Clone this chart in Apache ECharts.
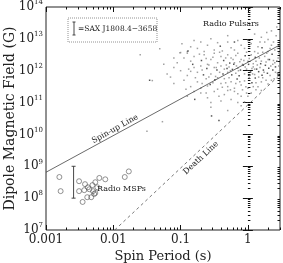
<!DOCTYPE html>
<html><head><meta charset="utf-8">
<script src="https://cdn.jsdelivr.net/npm/echarts@6/dist/echarts.min.js"></script>
<style>html,body{margin:0;padding:0;background:#fff}#c{width:283px;height:263px}</style>
</head><body><div id="c"></div>
<script>
// Axis ranges and tick values
const xMin = 0.001, xMax = 3;
const yMin = 1e7, yMax = 1e14;
const xMajorTicks = [0.001, 0.01, 0.1, 1];
const xTickLabels = ['0.001', '0.01', '0.1', '1'];
const xMinorTicks = [0.002,0.003,0.004,0.005,0.006,0.007,0.008,0.009,0.02,0.03,0.04,0.05,0.06,0.07,0.08,0.09,0.2,0.3,0.4,0.5,0.6,0.7,0.8,0.9,2,3];
const yTickExponents = [7, 8, 9, 10, 11, 12, 13, 14];
const yMinorMultipliers = [2,3,4,5,6,7,8,9];

// Radio pulsars, [log10 P(s), log10 B(G)]
const pulsarsLight = [
[0.43,13.37],[0.28,13.2],[0.35,13.25],[0.42,13.1],[0.2,13.05],[-0.55,13.0],[0.1,13.15],[-0.15,12.95],[0.3,12.98],
[-1.0,12.57],[-0.9,12.6],[-0.75,12.7],[-0.6,12.8],[-0.3,12.9],[-0.1,12.8],[0.05,12.85],[0.35,12.8],[0.4,12.65],[-0.5,12.65],[-0.2,12.65],[0.1,12.6],[-1.31,12.69],[-0.85,12.75],[0.25,12.9],[-0.05,12.7],[0.3,12.6],[-0.65,12.6],
[-0.95,12.4],[-0.8,12.45],[-0.65,12.5],[-0.55,12.35],[-0.5,12.55],[-0.45,12.25],[-0.4,12.45],[-0.3,12.5],[-0.25,12.4],[-0.2,12.25],[-0.15,12.55],[-0.1,12.35],[0,12.3],[0.05,12.5],[0.15,12.55],[0.2,12.3],[0.25,12.45],[0.3,12.35],[0.4,12.25],[0.45,12.4],[-0.6,12.2],[-0.12,12.28],[0.08,12.22],[-0.42,12.58],[-0.02,12.58],[0.22,12.58],[-0.72,12.52],[-0.85,12.3],[-1.05,12.25],[-0.33,12.4],[-0.18,12.48],[0.02,12.38],[0.12,12.3],[0.28,12.55],[-0.52,12.42],[-0.62,12.38],[-0.08,12.2],[0.38,12.32],
[-1.2,11.9],[-1.0,12.0],[-0.9,11.85],[-0.8,12.1],[-0.75,11.95],[-0.7,12.15],[-0.55,11.9],[-0.5,12.1],[-0.48,11.82],[-0.4,12.15],[-0.35,12.05],[-0.3,11.95],[-0.28,12.12],[-0.18,11.92],[-0.15,12.08],[-0.05,11.9],[-0.02,12.05],[0.02,11.85],[0.08,12.12],[0.1,11.88],[0.18,12.1],[0.33,11.85],[0.44,11.92],[-0.58,12.18],[-0.42,11.95],[-0.32,12.18],[-0.14,12.0],[-0.04,12.12],[0.06,12.07],[-0.85,11.98],[-0.68,12.02],[-1.1,12.1],[0.16,11.8],[-0.26,12.0],[0.34,12.15],
[-1.42,11.69],[-1.1,11.6],[-0.95,11.7],[-0.85,11.5],[-0.75,11.65],[-0.7,11.45],[-0.62,11.75],[-0.45,11.42],[-0.4,11.6],[-0.35,11.75],[-0.3,11.5],[-0.25,11.65],[-0.2,11.45],[-0.1,11.55],[-0.05,11.68],[0,11.45],[0.15,11.5],[0.2,11.65],[0.3,11.58],[0.35,11.7],[-0.6,11.52],[-0.38,11.48],[-0.18,11.6],[0.02,11.78],[0.12,11.62],[-0.78,11.78],[-0.92,11.42],[0.22,11.78],[-0.28,11.78],[-0.08,11.4],[-0.52,11.62],
[-0.9,11.2],[-0.7,11.3],[-0.6,11.15],[-0.5,11.35],[-0.4,11.05],[-0.35,11.25],[-0.25,11.1],[-0.2,11.35],[-0.1,11.2],[-0.05,11.02],[0.05,11.3],[0.2,11.38],[-0.3,11.38],[0,11.2],[-0.15,11.0],[-0.55,11.0],
[-1.27,10.4],[-1.5,10.1],[-0.3,10.75],[-0.1,10.9],[-0.55,10.85],[-1.01,12.56],[-0.9,12.55],
[-0.45,12.88],[-0.25,12.72],[0.15,12.75],[0.38,12.9],[0.46,12.55],[0.46,12.15],[0.41,11.95],[0.27,11.7],[0.12,11.4],[-0.02,11.3],
[-0.62,11.3],[-0.8,11.35],[-1.15,11.8],[-1.25,12.2],[-0.98,12.85],[-0.7,12.9],[-1.6,12.5],[-0.43,11.2],[-0.15,11.28],[0.08,11.5],
[0.44,12.7],[0.47,12.0],[0.45,11.9],[0.39,11.75],[0.33,12.7],[0.18,12.9],[0.0,12.95],[-0.3,13.1],[-0.8,12.95],[-1.1,12.4],
[-0.38,12.62],[-0.22,12.35],[-0.06,12.32],[0.17,12.4],[0.27,12.27],[-0.47,12.1],[-0.33,11.62],[-0.12,11.65],[0.07,11.9],[0.24,11.95],
[-0.68,11.6],[-0.58,11.8],[-0.88,12.05],[-0.03,11.5],[0.14,12.18],[-0.17,12.15],[-0.45,11.78],[-0.26,11.4],[0.1,12.05],[0.37,12.2]
];
const pulsarsDark = [
[-0.79,11.1],[-0.54,10.58],[-0.43,10.44],[-0.31,12.07],[-0.11,12.02],[0.04,11.96],[-0.21,12.2],[0.21,11.86],[-0.46,12.02],[0.13,12.05],
[-0.61,12.07],[0.31,12.08],[-0.24,11.87],[0.01,12.2],[0.26,12.17],[-0.36,12.32],[0.11,12.42],[-0.16,11.74],[0.11,11.77],[-0.56,11.57],
[-0.04,12.47],[0.36,12.52],[-0.69,12.32],[-0.41,12.77],[0.21,12.72],[-0.89,12.62],[0.41,12.12],[-0.37,11.9],[0.16,11.97],[-0.13,11.84],
[0.29,11.92],[-0.66,11.87],[0.06,11.62],[-0.27,12.24],[0.19,12.22],[-0.49,11.72],[0.23,12.02],[-0.23,12.04],[0.37,12.02],[-0.07,12.17],
[-1.46,11.7],[-0.2,12.9],[0.43,12.3],[-0.82,12.2],[0.32,12.35]
];

// Radio millisecond pulsars, [P(s), B(G)]
const msps = [
[0.00158,4.6e8],[0.00165,1.66e8],[0.0031,3.4e8],[0.0031,1.66e8],[0.0038,2.75e8],[0.0037,1.78e8],[0.0035,7.6e7],[0.0041,1.07e8],
[0.0044,1.9e8],[0.0049,2.57e8],[0.0054,3.16e8],[0.0050,1.66e8],[0.0054,1.45e8],[0.0058,2.19e8],[0.0062,4.3e8],[0.0052,1.35e8],
[0.0047,1.07e8],[0.0042,2.19e8],[0.0076,3.9e8],[0.0148,4.6e8],[0.0170,6.9e8]
];
// SAX J1808.4-3658: [P(s), Bmin(G), Bmax(G)]
const saxJ1808 = [[0.00257, 1e8, 1e9]];
// Reference lines, [P(s), B(G)] end points
const spinUpLine = [[0.001, 6.5e8], [3, 6.5e12]];
const deathLine = [[0.0105, 1e7], [3, 7.5e11]];

const FONT = 'DejaVu Serif';
const INK = '#222222';

const yMinorTicks = [];
yTickExponents.slice(0, -1).forEach(e => yMinorMultipliers.forEach(m => yMinorTicks.push(m * Math.pow(10, e))));
const yMajorTicks = yTickExponents.map(e => Math.pow(10, e));

function isDecade(v) { const l = Math.log10(v); return Math.abs(l - Math.round(l)) < 1e-6; }

// Tick-only helper axes in log10 space, overlaid on the same grid
function tickAxis(dim, position, values, len) {
  const isX = dim === 'x';
  return {
    type: 'value', gridIndex: 0, position: position, silent: true,
    min: isX ? Math.log10(xMin) : Math.log10(yMin),
    max: isX ? Math.log10(xMax) : Math.log10(yMax),
    axisLine: { show: false }, splitLine: { show: false },
    axisLabel: { show: false },
    axisTick: { show: true, inside: true, length: len, customValues: values.map(v => Math.log10(v)), lineStyle: { color: '#111', width: 1 } }
  };
}

const chart = echarts.init(document.getElementById('c'), null, { renderer: 'canvas' });
chart.setOption({
  backgroundColor: '#ffffff',
  animation: false,
  grid: { left: 46, right: 3, top: 7, bottom: 33, show: true, borderColor: INK, borderWidth: 1, outerBoundsMode: 'none' },
  xAxis: [{
    type: 'log', min: xMin, max: xMax, gridIndex: 0, position: 'bottom',
    axisLine: { show: false }, axisTick: { show: false }, splitLine: { show: false },
    axisLabel: {
      fontFamily: FONT, fontSize: 12, color: INK, margin: 4, showMinLabel: true, showMaxLabel: true,
      formatter: function (v) {
        if (!isDecade(v)) return '';
        const i = xMajorTicks.findIndex(t => Math.abs(Math.log10(t) - Math.log10(v)) < 1e-6);
        return i >= 0 ? xTickLabels[i] : '';
      }
    },
    name: 'Spin Period (s)', nameLocation: 'middle', nameGap: 20, nameMoveOverlap: false,
    nameTextStyle: { fontFamily: FONT, fontSize: 13, color: INK }
  },
    tickAxis('x', 'bottom', xMajorTicks, 5),
    tickAxis('x', 'bottom', xMinorTicks, 2.5),
    tickAxis('x', 'top', xMajorTicks, 5),
    tickAxis('x', 'top', xMinorTicks, 2.5)
  ],
  yAxis: [{
    type: 'log', min: yMin, max: yMax, gridIndex: 0, position: 'left',
    axisLine: { show: false }, axisTick: { show: false }, splitLine: { show: false },
    axisLabel: {
      fontFamily: FONT, color: INK, margin: 3, showMinLabel: true, showMaxLabel: true,
      formatter: function (v) {
        if (!isDecade(v)) return '';
        return '{b|10}{s|' + Math.round(Math.log10(v)) + '}';
      },
      rich: {
        b: { fontFamily: FONT, fontSize: 12, color: INK },
        s: { fontFamily: FONT, fontSize: 7, color: INK, padding: [0, 0, 9, 0] }
      }
    },
    name: 'Dipole Magnetic Field (G)', nameLocation: 'middle', nameGap: 29, nameMoveOverlap: false,
    nameTextStyle: { fontFamily: FONT, fontSize: 14, color: INK }
  },
    tickAxis('y', 'left', yMajorTicks, 5),
    tickAxis('y', 'left', yMinorTicks, 2.5),
    tickAxis('y', 'right', yMajorTicks, 5),
    tickAxis('y', 'right', yMinorTicks, 2.5)
  ],
  series: [
    { type: 'line', xAxisIndex: 0, yAxisIndex: 0, data: spinUpLine, symbol: 'none', silent: true, lineStyle: { color: '#444', width: 0.8 } },
    { type: 'line', xAxisIndex: 0, yAxisIndex: 0, data: deathLine, symbol: 'none', silent: true, lineStyle: { color: '#555', width: 0.8, type: [3, 3] } },
    { type: 'scatter', xAxisIndex: 0, yAxisIndex: 0, data: pulsarsLight.map(p => [Math.pow(10, p[0]), Math.pow(10, p[1])]), symbol: 'rect', symbolSize: 1.5, silent: true, itemStyle: { color: '#8a8a8a' } },
    { type: 'scatter', xAxisIndex: 0, yAxisIndex: 0, data: pulsarsDark.map(p => [Math.pow(10, p[0]), Math.pow(10, p[1])]), symbol: 'rect', symbolSize: 1.5, silent: true, itemStyle: { color: '#2a2a2a' } },
    { type: 'scatter', xAxisIndex: 0, yAxisIndex: 0, data: msps, symbol: 'circle', symbolSize: 5, silent: true, itemStyle: { color: 'rgba(0,0,0,0)', borderColor: '#555', borderWidth: 0.8 } },
    {
      type: 'custom', xAxisIndex: 0, yAxisIndex: 0, silent: true, animation: false, data: saxJ1808,
      renderItem: function (params, api) {
        const lo = api.coord([api.value(0), api.value(1)]);
        const hi = api.coord([api.value(0), api.value(2)]);
        const st = { stroke: '#333', lineWidth: 0.9 };
        return { type: 'group', children: [
          { type: 'line', shape: { x1: lo[0], y1: lo[1], x2: hi[0], y2: hi[1] }, style: st },
          { type: 'line', shape: { x1: lo[0] - 2, y1: lo[1], x2: lo[0] + 2, y2: lo[1] }, style: st },
          { type: 'line', shape: { x1: hi[0] - 2, y1: hi[1], x2: hi[0] + 2, y2: hi[1] }, style: st }
        ]};
      }
    }
  ],
  graphic: [
    { type: 'rect', shape: { x: 68, y: 18, width: 89, height: 24 }, style: { fill: 'none', stroke: '#777', lineWidth: 0.8, lineDash: [1, 1] } },
    { type: 'line', shape: { x1: 74, y1: 22, x2: 74, y2: 35 }, style: { stroke: '#333', lineWidth: 0.9 } },
    { type: 'line', shape: { x1: 72.5, y1: 22, x2: 75.5, y2: 22 }, style: { stroke: '#333', lineWidth: 0.9 } },
    { type: 'line', shape: { x1: 72.5, y1: 35, x2: 75.5, y2: 35 }, style: { stroke: '#333', lineWidth: 0.9 } },
    { type: 'text', x: 78, y: 29, style: { text: '=SAX J1808.4\u22123658', font: '7.5px "DejaVu Serif"', fill: INK, align: 'left', verticalAlign: 'middle' } },
    { type: 'text', x: 231, y: 24, style: { text: 'Radio Pulsars', font: '8px "DejaVu Serif"', fill: INK, align: 'center', verticalAlign: 'middle' } },
    { type: 'text', x: 97, y: 189, style: { text: 'Radio MSPs', font: '8px "DejaVu Serif"', fill: INK, align: 'left', verticalAlign: 'middle' } },
    { type: 'text', x: 115, y: 129, rotation: 0.505, style: { text: 'Spin-up Line', font: '8px "DejaVu Serif"', fill: INK, align: 'center', verticalAlign: 'middle' } },
    { type: 'text', x: 201, y: 158, rotation: 0.75, style: { text: 'Death Line', font: '8px "DejaVu Serif"', fill: INK, align: 'center', verticalAlign: 'middle' } }
  ]
});
</script></body></html>
